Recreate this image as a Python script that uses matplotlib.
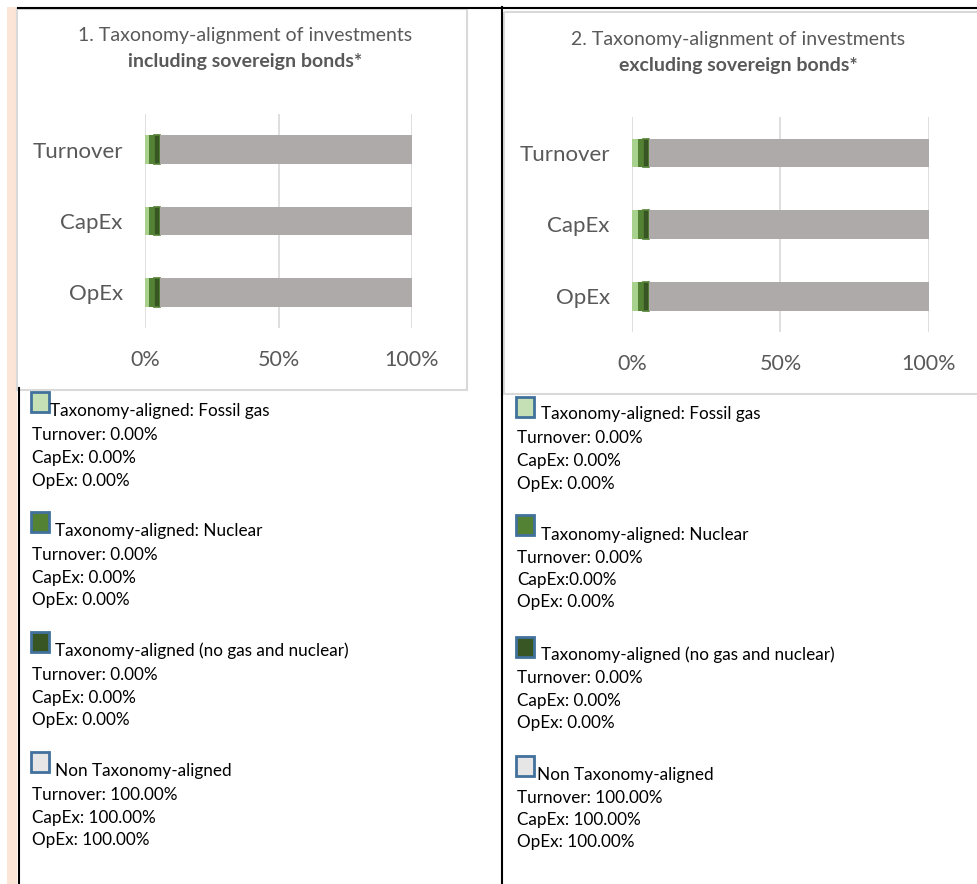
import matplotlib
matplotlib.use("Agg")
import matplotlib.pyplot as plt
from matplotlib.patches import Rectangle

plt.rcParams['font.family'] = ['Lato', 'DejaVu Sans']

W, H = 978, 884

categories = ['Turnover', 'CapEx', 'OpEx']
ticks = [0, 50, 100]
tick_labels = ['0%', '50%', '100%']

# bar widths (%) as drawn in the reference
incl_fossil_gas = [1.5, 1.5, 1.5]
incl_nuclear = [1.9, 1.9, 1.9]
incl_aligned = [2.2, 2.2, 2.2]
incl_non_aligned = [94.4, 94.4, 94.4]

excl_fossil_gas = [2.0, 2.0, 2.0]
excl_nuclear = [1.7, 1.7, 1.7]
excl_aligned = [2.0, 2.0, 2.0]
excl_non_aligned = [94.3, 94.3, 94.3]

# reported values in the legend text
legend_titles = ['Taxonomy-aligned: Fossil gas', 'Taxonomy-aligned: Nuclear',
                 'Taxonomy-aligned (no gas and nuclear)', 'Non Taxonomy-aligned']
incl_values = [['0.00%', '0.00%', '0.00%'], ['0.00%', '0.00%', '0.00%'],
               ['0.00%', '0.00%', '0.00%'], ['100.00%', '100.00%', '100.00%']]
excl_values = [['0.00%', '0.00%', '0.00%'], ['0.00%', '0.00%', '0.00%'],
               ['0.00%', '0.00%', '0.00%'], ['100.00%', '100.00%', '100.00%']]
excl_seps = [[': ', ': ', ': '], [': ', ':', ': '], [': ', ': ', ': '], [': ', ': ', ': ']]

bar_colors = ['#A9D18E', '#548235', '#375623', '#AEAAAA']
box_colors = ['#C5E0B4', '#548235', '#375623', '#E7E6E6']
text_grey = '#595959'


def px(x, y, w, h):
    return [x / W, 1 - (y + h) / H, w / W, h / H]


fig = plt.figure(figsize=(W / 100, H / 100), dpi=100)

# background layer in pixel coords: frame lines and chart boxes
bg = fig.add_axes([0, 0, 1, 1])
bg.set_xlim(0, W)
bg.set_ylim(H, 0)
bg.axis('off')
bg.add_patch(Rectangle((7, 7), 10, H, color='#FCE4D6', lw=0))
bg.plot([18, W], [7.5, 7.5], color='black', lw=1.5)
bg.plot([18.5, 18.5], [388, H], color='black', lw=1.5)
bg.plot([502, 502], [7, H], color='black', lw=1.5)
bg.add_patch(Rectangle((17, 8.5), 450, 381, fill=False, ec='#D9D9D9', lw=1.5))
bg.add_patch(Rectangle((503.5, 11.5), 480, 382, fill=False, ec='#D9D9D9', lw=1.5))


def draw_chart(rect, title1, title2, tx, ty, series):
    ax = fig.add_axes(px(*rect))
    left = [0, 0, 0]
    for vals, c in zip(series, bar_colors):
        ec = '#548235' if c == '#375623' else c
        ax.barh(categories, vals, left=left, height=0.4, color=c,
                edgecolor=ec, lw=1.2 if c == '#375623' else 0, zorder=3)
        left = [l + v for l, v in zip(left, vals)]
    ax.set_xlim(0, 100)
    ax.set_ylim(2.5, -0.5)
    ax.set_xticks(ticks)
    ax.set_xticklabels(tick_labels)
    ax.grid(axis='x', color='#D9D9D9', lw=1.2, zorder=0)
    for s in ax.spines.values():
        s.set_visible(False)
    ax.tick_params(axis='x', length=0, pad=16, labelsize=15.5, labelcolor=text_grey)
    ax.tick_params(axis='y', length=0, pad=16, labelsize=16, labelcolor=text_grey)
    ax.patch.set_alpha(0)
    bg.text(tx, ty, title1, ha='center', va='center', fontsize=14, color=text_grey)
    bg.text(tx, ty + 26, title2, ha='center', va='center', fontsize=14,
            color=text_grey, fontweight='bold')


draw_chart((145, 114, 267, 214), '1. Taxonomy-alignment of investments',
           'including sovereign bonds*', 245, 35,
           [incl_fossil_gas, incl_nuclear, incl_aligned, incl_non_aligned])
draw_chart((632, 117, 297, 215), '2. Taxonomy-alignment of investments',
           'excluding sovereign bonds*', 738, 40,
           [excl_fossil_gas, excl_nuclear, excl_aligned, excl_non_aligned])


def draw_legend(x_box, x_title, x_line, box_tops, title_ys, line_ys, values, seps):
    for i in range(4):
        bg.add_patch(Rectangle((x_box, box_tops[i]), 18, 20, fc=box_colors[i],
                               ec='#41719C', lw=2))
        bg.text(x_title[i], title_ys[i], legend_titles[i], va='center',
                fontsize=12.3, color='black')
        for j in range(3):
            bg.text(x_line, line_ys[i][j], categories[j] + seps[i][j] + values[i][j],
                    va='center', fontsize=12.3, color='black')


draw_legend(31, [50, 55, 55, 55], 32,
            [392, 512, 632, 752], [411, 531, 651, 771],
            [[435, 458, 481], [555, 578, 600], [675, 698, 720], [795, 818, 840]],
            incl_values, [[': '] * 3] * 4)
draw_legend(516, [541, 541, 541, 537], 517,
            [397, 515, 637, 756], [414, 535, 655, 775],
            [[438, 461, 484], [558, 580, 602], [678, 701, 723], [798, 820, 842]],
            excl_values, excl_seps)

fig.savefig('out.png', dpi=100)
